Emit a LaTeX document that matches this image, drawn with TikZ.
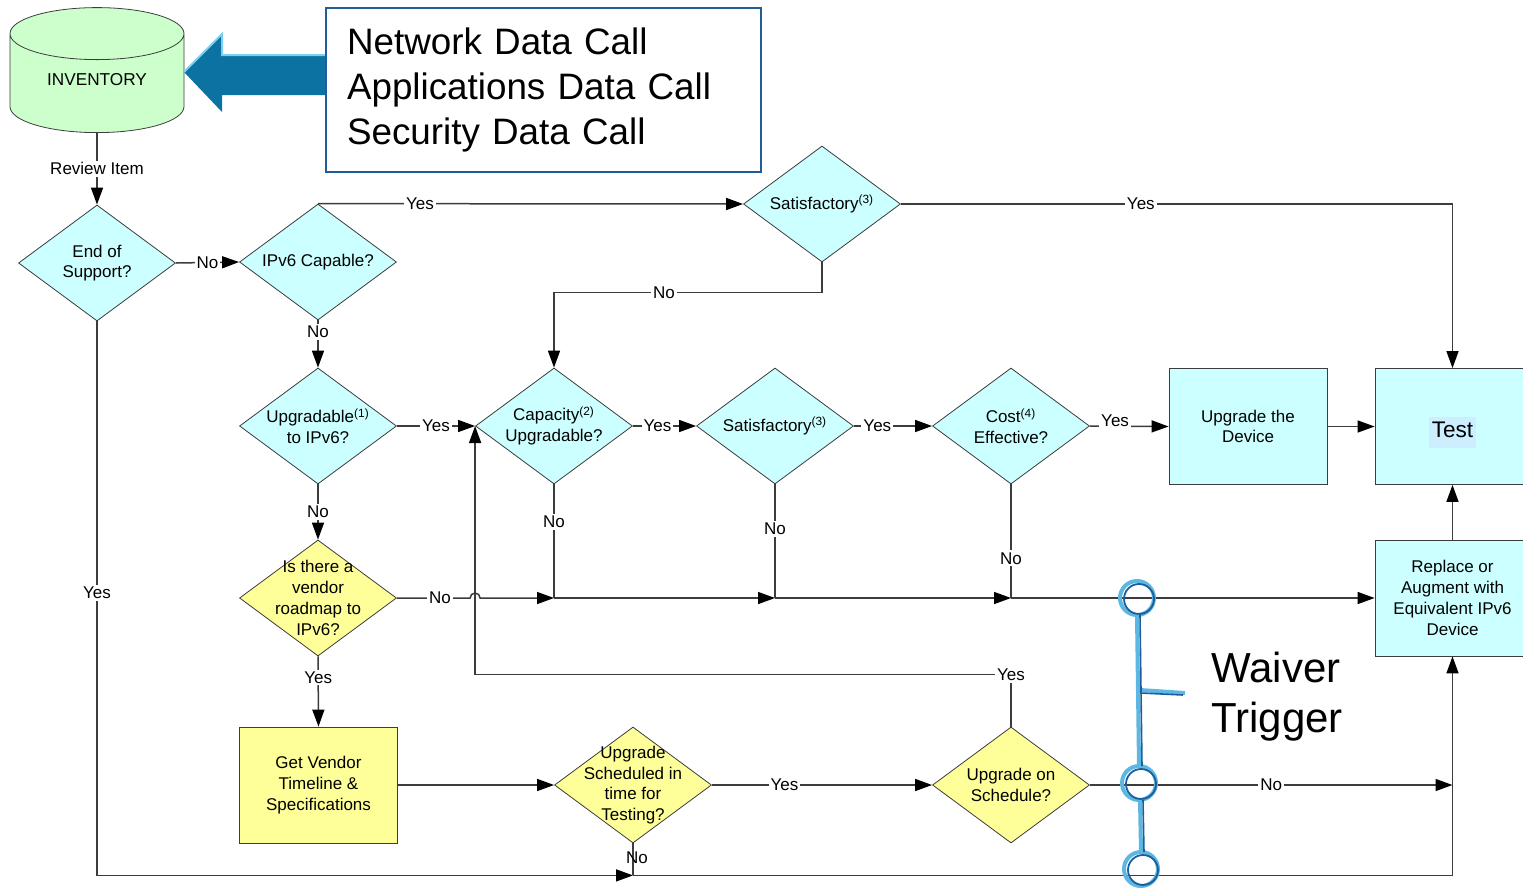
\documentclass[tikz,border=0pt]{standalone}
\usepackage{fontspec}
\setmainfont{Liberation Sans}
\usetikzlibrary{shapes.geometric,arrows.meta,calc}

\definecolor{cyanf}{HTML}{CCFFFF}
\definecolor{yelf}{HTML}{FFFF99}
\definecolor{greenf}{HTML}{CCFFCC}
\definecolor{linec}{HTML}{3C3C3C}
\definecolor{notec}{HTML}{1F5C99}
\definecolor{bigarr}{HTML}{0B72A2}
\definecolor{bigarrl}{HTML}{7FD0F0}
\definecolor{wvdark}{HTML}{1B5E9B}
\definecolor{wvlight}{HTML}{5DB7E3}
\definecolor{testbg}{HTML}{CCEEFF}

\tikzset{
  dec/.style={diamond, draw=linec, fill=cyanf, minimum width=78.5pt, minimum height=58pt, inner sep=0pt},
  decy/.style={dec, fill=yelf},
  dtxt/.style={align=center, font=\fontsize{8.5}{10.4}\selectfont, inner sep=0pt},
  box/.style={rectangle, draw=linec, fill=cyanf, minimum width=79pt, minimum height=58pt, align=center, font=\fontsize{8.5}{10.4}\selectfont},
  lbl/.style={fill=white, inner sep=1pt, font=\fontsize{8.5}{10}\selectfont},
  flow/.style={draw=linec, line width=0.75pt},
  arr/.style={flow, -{Triangle[length=8.5pt,width=6pt,black]}},
}

\begin{document}
\begin{tikzpicture}[x=0.5pt,y=0.5pt,yscale=-1,xscale=1]
        \useasboundingbox (0,0) rectangle (1523,890);

        % Inventory
        \node[cylinder, shape border rotate=90, aspect=0.46, draw=linec, fill=greenf, minimum width=87pt, minimum height=62.5pt, anchor=south, font=\fontsize{8.6}{10}\selectfont] (inv) at (97,133) {\rule[-9pt]{0pt}{0pt}INVENTORY};

        % Big arrow
        \fill[bigarr] (184,72) -- ++(38,-38) -- ++(0,21) -- ++(106,0) -- ++(0,40) -- ++(-106,0) -- ++(0,17) -- cycle;
        \draw[bigarrl, line width=1pt] (184,72) -- ++(38,-38) -- ++(0,21) -- ++(106,0);

        % Data calls
        \node[draw=notec, line width=1pt, fill=white, minimum width=217.5pt, minimum height=82pt, text width=196.5pt, inner xsep=10.5pt, align=left, font=\fontsize{18.4}{22.5}\selectfont] (note) at (543.5,90) {Network Data Call\\Applications Data Call\\Security Data Call};

        % Decisions
        \node[dec, label={[dtxt]center:{End of\\Support?}}] (eos) at (97,263) {};
        \node[dec, label={[dtxt]center:{IPv6 Capable?}}] (ipv6) at (318,262) {};
        \node[dec, label={[dtxt]center:{Satisfactory\textsuperscript{(3)}}}] (sat1) at (822,204) {};
        \node[dec, label={[dtxt]center:{Upgradable\textsuperscript{(1)}\\to IPv6?}}] (upg) at (318,426) {};
        \node[dec, label={[dtxt]center:{Capacity\textsuperscript{(2)}\\Upgradable?}}] (cap) at (554,426) {};
        \node[dec, label={[dtxt]center:{Satisfactory\textsuperscript{(3)}}}] (satm) at (775,426) {};
        \node[dec, label={[dtxt]center:{Cost\textsuperscript{(4)}\\Effective?}}] (cost) at (1011,426) {};
        \node[decy, label={[dtxt]center:{Is there a\\vendor\\roadmap to\\IPv6?}}] (vend) at (318,598) {};
        \node[decy, label={[dtxt]center:{Upgrade\\Scheduled in\\time for\\Testing?}}] (sched) at (633,785) {};
        \node[decy, label={[dtxt]center:{Upgrade on\\Schedule?}}] (osch) at (1011,785) {};

        % Actions
        \node[box] (upd) at (1248,426.5) {Upgrade the\\Device};
        \node[box, minimum width=77.5pt] (test) at (1452.5,426.5) {\rule{0pt}{16.5pt}\setlength{\fboxsep}{1.2pt}\colorbox{testbg}{\fontsize{11.3}{13}\selectfont\strut Test}};
        \node[box, minimum width=77.5pt] (repl) at (1452.5,598) {Replace or\\Augment with\\Equivalent IPv6\\Device};
        \node[box, fill=yelf] (getv) at (318.5,785) {Get Vendor\\Timeline \&\\Specifications};

        % Junctions
        \coordinate (k1) at ($(sat1.south)+(0,30)$);
        \coordinate (k2) at ($(osch.north)+(0,-52)$);
        \coordinate (j1) at (cap.south |- vend.east);
        \coordinate (j2) at (satm.south |- vend.east);
        \coordinate (j3) at (cost.south |- vend.east);
        \coordinate (jb) at ($(sched.south)+(0,32)$);

        % Connections
        \draw[arr] (inv.south) -- node[lbl]{Review Item} (eos.north);
        \draw[arr] (eos.east) -- node[lbl]{No} (ipv6.west);
        \draw[arr] (ipv6.north) -- node[lbl,pos=0.24]{Yes} (sat1.west);
        \draw[arr] (sat1.east) -- node[lbl,pos=0.435]{Yes} (sat1.east -| test.north) -- (test.north);
        \draw[arr] (sat1.south) -- (k1) -- node[lbl,pos=0.59]{No} (k1 -| cap.north) -- (cap.north);
        \draw[arr] (ipv6.south) -- node[lbl,pos=0.24]{No} (upg.north);
        \draw[arr] (upg.east) -- node[lbl]{Yes} (cap.west);
        \draw[arr] (upg.south) -- node[lbl]{No} (vend.north);
        \draw[arr] (cap.east) -- node[lbl,pos=0.39]{Yes} (satm.west);
        \draw[arr] (satm.east) -- node[lbl,pos=0.3]{Yes} (cost.west);
        \draw[arr] (cost.east) -- node[lbl,pos=0.32,yshift=2.5pt]{Yes} (upd.west);
        \draw[arr] (upd.east) -- (test.west);
        \draw[arr] (repl.north) -- (test.south);

        \draw[arr] (vend.east) -- node[lbl,pos=0.59]{No} ($(cap.west |- vend.east)+(-5,0)$) arc[start angle=180, end angle=360, radius=5] -- (j1);
        \draw[arr] (j1) -- (j2);
        \draw[arr] (j2) -- (j3);
        \draw[arr] (j3) -- (repl.west);
        \draw[flow] (cap.south) -- node[lbl,pos=0.33]{No} (j1);
        \draw[flow] (satm.south) -- node[lbl,pos=0.39]{No} (j2);
        \draw[flow] (cost.south) -- node[lbl,pos=0.65]{No} (j3);

        \draw[arr] (vend.south) -- node[lbl,pos=0.3]{Yes} (getv.north);
        \draw[arr] (getv.east) -- (sched.west);
        \draw[arr] (sched.east) -- node[lbl,pos=0.33]{Yes} (osch.west);
        \draw[arr] (osch.east) -- node[lbl]{No} (osch.east -| repl.south);
        \draw[arr] (osch.north) -- (k2) node[lbl]{Yes} -- (k2 -| cap.west) -- (cap.west);

        \draw[arr] (eos.south) -- node[lbl,pos=0.49]{Yes} (eos.south |- jb) -- (jb);
        \draw[flow] (sched.south) -- node[pos=0.44, xshift=2pt, inner sep=0pt, font=\fontsize{8.5}{10}\selectfont]{No} (jb);
        \draw[arr] (jb) -- (jb -| repl.south) -- (repl.south);

        % Waiver trigger
        \foreach \cx/\cy in {1137/598, 1139/783, 1141/869} {
          \draw[wvlight, line width=2pt] (\cx,\cy) circle[radius=17];
          \draw[wvdark, line width=0.9pt] (\cx+2,\cy+1) circle[radius=15];
        }
        \draw[wvlight, line width=2pt] (1137,615) -- (1139,766) (1140,800) -- (1141,852) (1140,690) -- (1185,693);
        \draw[wvdark, line width=0.8pt] (1140,615) -- (1142,766) (1143,800) -- (1144,852) (1141,693) -- (1183,695);
        \node[align=left, anchor=north west, inner sep=0pt, font=\fontsize{21}{25}\selectfont] (waiver) at (1211,652) {Waiver\\Trigger};

\end{tikzpicture}
\end{document}
